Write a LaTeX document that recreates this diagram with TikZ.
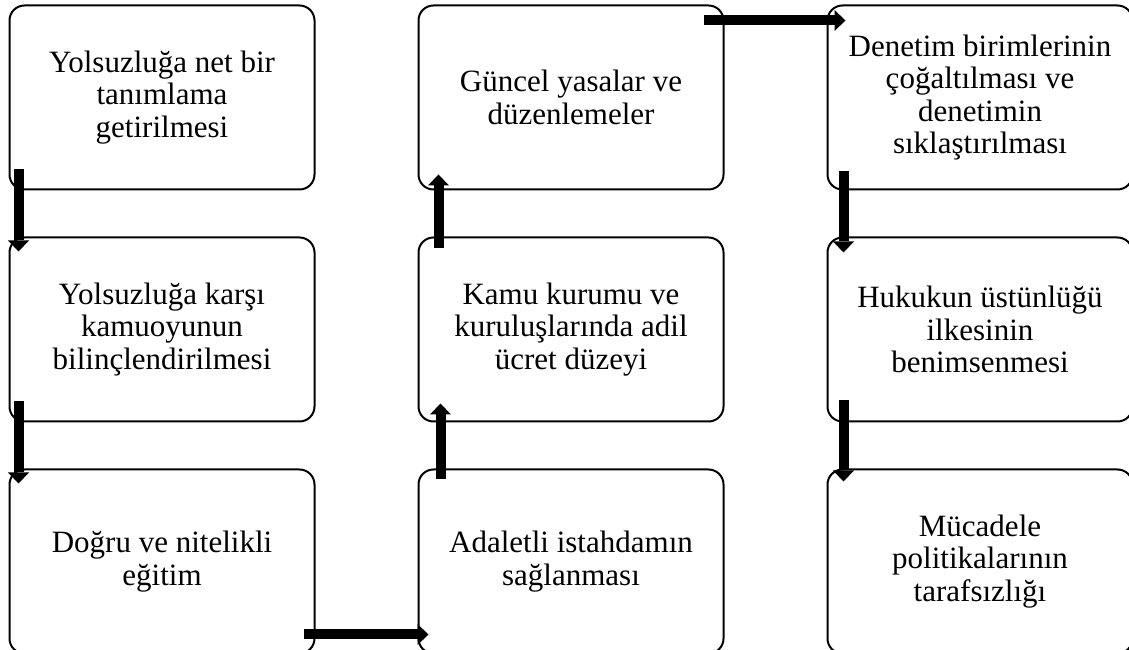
\documentclass[tikz,border=0pt]{standalone}
\usepackage{fontspec}
\setmainfont{Liberation Serif}
\usepackage{tikz}
\usetikzlibrary{positioning,arrows.meta}
\tikzstyle{block} = [draw, rectangle, rounded corners=15pt, line width=2pt,
    minimum width=305pt, minimum height=184pt, align=center,
    font=\fontsize{31}{32.5}\selectfont]
\tikzstyle{arrow} = [line width=10pt, -{Triangle[length=11pt,width=21pt,line width=0pt]}]

\begin{document}
\begin{tikzpicture}[x=1pt, y=1pt, node distance=46pt and 102pt]
    \useasboundingbox (0,0) rectangle (1129,650);
    % We start by placing the blocks
    \node [block] (definition) at (162,552.5) {Yolsuzluğa net bir\\tanımlama\\getirilmesi};
    \node [block, below=of definition] (awareness) {Yolsuzluğa karşı\\kamuoyunun\\bilinçlendirilmesi};
    \node [block, below=of awareness] (education) {Doğru ve nitelikli\\eğitim};
    \node [block, right=of education] (employment) {Adaletli istahdamın\\sağlanması};
    \node [block, above=of employment] (wage) {Kamu kurumu ve\\kuruluşlarında adil\\ücret düzeyi};
    \node [block, above=of wage] (laws) {Güncel yasalar ve\\düzenlemeler};
    \node [block, right=of laws] (audit) {Denetim birimlerinin\\çoğaltılması ve\\denetimin\\sıklaştırılması};
    \node [block, below=of audit] (rule) {Hukukun üstünlüğü\\ilkesinin\\benimsenmesi};
    \node [block, below=of rule] (neutral) {Mücadele\\politikalarının\\tarafsızlığı};
    % arrows between the blocks
    \draw [arrow] ([shift={(10,21)}]definition.south west) -- ([shift={(10,-15)}]awareness.north west);
    \draw [arrow] ([shift={(10,21)}]awareness.south west) -- ([shift={(10,-15)}]education.north west);
    \draw [arrow] ([shift={(-12,20)}]education.south east) -- ([shift={(11,20)}]employment.south west);
    \draw [arrow] ([shift={(23,-11)}]employment.north west) -- ([shift={(23,19)}]wage.south west);
    \draw [arrow] ([shift={(21,-12)}]wage.north west) -- ([shift={(21,16)}]laws.south west);
    \draw [arrow] ([shift={(-21,-16)}]laws.north east) -- ([shift={(19,-16)}]audit.north west);
    \draw [arrow] ([shift={(17,19)}]audit.south west) -- ([shift={(17,-16)}]rule.north west);
    \draw [arrow] ([shift={(17,22)}]rule.south west) -- ([shift={(17,-13)}]neutral.north west);
\end{tikzpicture}
\end{document}
